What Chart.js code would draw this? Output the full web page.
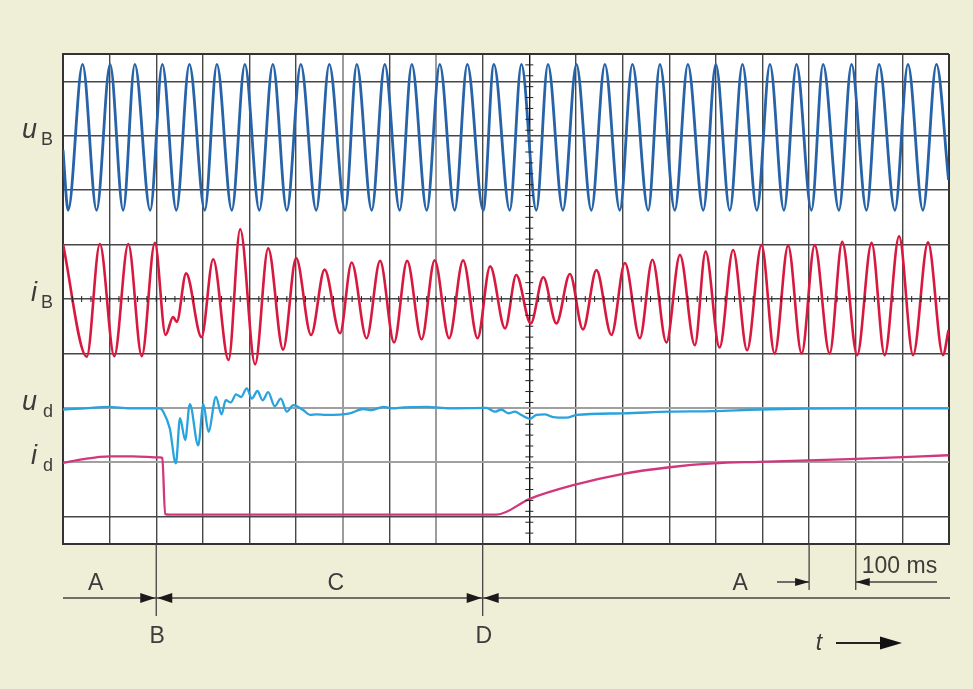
<!DOCTYPE html>
<html lang="de">
<head>
<meta charset="UTF-8">
<title>Oszillogramm uB, iB, ud, id</title>
<style>
  html, body { margin: 0; padding: 0; background: #efefd7; }
  canvas { display: block; }
</style>
</head>
<body>
<canvas id="scope" width="973" height="689"></canvas>
<script src="https://cdn.jsdelivr.net/npm/chart.js"></script>
<script>
// time in ms (1 division = 100 ms), values in divisions relative to each trace's zero line
const uBTime = [0,
  11, 42, 72, 101, 129, 154, 187, 213,
  243, 271, 304, 330, 362, 390, 421, 450,
  480, 510, 543, 571, 605, 630, 662, 690,
  722, 748, 780, 808, 840, 867, 901, 924,
  958, 983, 1015, 1040, 1072, 1101, 1133, 1162,
  1194, 1221, 1255, 1280, 1312, 1340, 1373, 1400,
  1430, 1457, 1488, 1516, 1546, 1573, 1605, 1630,
  1664, 1691, 1723, 1750, 1784, 1812, 1844, 1873,
  1899];
const uBValue = [-0.26,
  -1.37, 1.31, -1.37, 1.31, -1.37, 1.31, -1.37, 1.31,
  -1.37, 1.31, -1.37, 1.31, -1.37, 1.31, -1.37, 1.31,
  -1.37, 1.31, -1.37, 1.31, -1.37, 1.31, -1.37, 1.31,
  -1.37, 1.31, -1.37, 1.31, -1.37, 1.31, -1.37, 1.31,
  -1.37, 1.31, -1.37, 1.31, -1.37, 1.31, -1.37, 1.31,
  -1.37, 1.31, -1.37, 1.31, -1.37, 1.31, -1.37, 1.31,
  -1.37, 1.31, -1.37, 1.31, -1.37, 1.31, -1.37, 1.31,
  -1.37, 1.31, -1.37, 1.31, -1.37, 1.31, -1.37, 1.31,
  -0.81];

const iBTime = [0, 51, 79, 110, 140, 169, 197,
  220, 236, 244, 264, 297, 322, 355,
  380, 412, 440, 472, 500, 532, 561,
  594, 619, 651, 680, 710, 738, 769,
  797, 828, 858, 889, 916, 948, 972,
  1003, 1030, 1058, 1087, 1115, 1144, 1176,
  1205, 1237, 1264, 1294, 1323, 1355, 1378,
  1408, 1437, 1467, 1498, 1526, 1555, 1584,
  1612, 1644, 1671, 1703, 1734, 1762, 1793,
  1823, 1855, 1887, 1899];
const iBValue = [1.01, -1.06, 1.01, -1.05, 1.01, -1.05, 1.03,
  -0.66, -0.33, -0.42, 0.47, -0.70, 0.73, -1.12,
  1.28, -1.20, 0.93, -0.93, 0.75, -0.66, 0.54,
  -0.63, 0.67, -0.72, 0.70, -0.80, 0.70, -0.74,
  0.71, -0.72, 0.71, -0.72, 0.60, -0.54, 0.44,
  -0.45, 0.40, -0.45, 0.46, -0.56, 0.53, -0.66,
  0.66, -0.72, 0.72, -0.80, 0.81, -0.85, 0.87,
  -0.89, 0.90, -0.94, 0.99, -1.00, 0.98, -1.00,
  0.99, -1.00, 1.05, -1.03, 1.03, -1.03, 1.15,
  -1.03, 1.04, -1.03, -0.57];

const udTime = [0, 47, 97, 144, 208, 215, 229, 242, 251, 262,
  272, 290, 301, 312, 328, 340, 349, 360, 371, 382,
  394, 405, 417, 428, 440, 454, 467, 480, 494, 515,
  530, 544, 565, 615, 644, 662, 687, 707, 730, 780,
  830, 908, 926, 940, 955, 969, 983, 1001, 1015, 1033,
  1051, 1080, 1101, 1201, 1301, 1394, 1494, 1687, 1899];
const udValue = [-0.03, -0.01, 0.02, -0.01, -0.01, -0.07, -0.38, -1.02, -0.19, -0.59,
  0.07, -0.69, 0.07, -0.44, 0.20, -0.12, 0.14, 0.10, 0.25, 0.20,
  0.36, 0.17, 0.31, 0.14, 0.29, 0.03, 0.17, -0.07, 0.05, -0.04,
  -0.13, -0.12, -0.13, -0.10, -0.02, -0.04, 0.02, -0.01, 0.01, 0.02,
  -0.01, 0.00, -0.07, -0.03, -0.10, -0.07, -0.13, -0.20, -0.13, -0.12,
  -0.17, -0.18, -0.13, -0.10, -0.07, -0.06, -0.03, -0.01, -0.01];

const idTime = [0, 43, 101, 150, 208, 213, 219, 229, 930, 1001, 1094, 1201, 1301, 1394, 1494, 1687, 1899];
const idValue = [-0.01, 0.06, 0.11, 0.11, 0.09, 0.08, -0.95, -0.96, -0.96, -0.67, -0.42, -0.21, -0.09, -0.02, 0.01, 0.06, 0.13];

// zero line of each trace on the 0..9 division screen
const zeroLine = { uB: 7.5, iB: 4.5, ud: 2.5, id: 1.5 };
const yGrid = [0, 0.5, 1.5, 2.5, 3.5, 4.5, 5.5, 6.5, 7.5, 8.5, 9];

const traceLabels = [
  { sym: 'u', sub: 'B', key: 'uB' },
  { sym: 'i', sub: 'B', key: 'iB' },
  { sym: 'u', sub: 'd', key: 'ud' },
  { sym: 'i', sub: 'd', key: 'id' }
];
const phaseBounds = [200, 900];          // B and D
const phaseNames = [
  { text: 'A', t: 70 }, { text: 'C', t: 585 }, { text: 'A', t: 1452 }
];
const boundNames = ['B', 'D'];
const scaleBar = [1600, 1700];

const FONT = '"Liberation Sans", Arial, sans-serif';
const INK = '#3c3c3c';

function points(times, vals, base) {
  return times.map((t, i) => ({ x: t, y: base + vals[i] }));
}

function arrowHead(ctx, tipX, y, dir, len, half) {
  ctx.beginPath();
  ctx.moveTo(tipX, y);
  ctx.lineTo(tipX - dir * len, y - half);
  ctx.lineTo(tipX - dir * len, y + half);
  ctx.closePath();
  ctx.fill();
}

const scopeDecor = {
  id: 'scopeDecor',
  beforeDraw(chart) {
    const { ctx, chartArea: a } = chart;
    ctx.save();
    ctx.fillStyle = '#efefd7';
    ctx.fillRect(0, 0, chart.width, chart.height);
    ctx.fillStyle = '#ffffff';
    ctx.fillRect(a.left, a.top, a.right - a.left, a.bottom - a.top);
    ctx.restore();
  },
  afterDraw(chart) {
    const { ctx, chartArea: a } = chart;
    const xs = chart.scales.x, ys = chart.scales.y;
    ctx.save();

    // small graduation on the centre axes
    ctx.strokeStyle = '#222';
    ctx.lineWidth = 1;
    const cx = xs.getPixelForValue(1000);
    for (let k = 1; k < 45; k++) {
      const y = ys.getPixelForValue(k / 5);
      ctx.beginPath(); ctx.moveTo(cx - 4, y); ctx.lineTo(cx + 4, y); ctx.stroke();
    }
    const cy = ys.getPixelForValue(zeroLine.iB);
    for (let k = 1; k < 95; k++) {
      const x = xs.getPixelForValue(k * 20);
      ctx.beginPath(); ctx.moveTo(x, cy - 3); ctx.lineTo(x, cy + 3); ctx.stroke();
    }

    // trace names on the left
    ctx.fillStyle = INK;
    traceLabels.forEach(l => {
      const y = ys.getPixelForValue(zeroLine[l.key]);
      ctx.textAlign = 'right';
      ctx.font = 'italic 27px ' + FONT;
      ctx.fillText(l.sym, 37, y + 2);
      ctx.font = '18px ' + FONT;
      ctx.fillText(l.sub, 53, y + 9);
    });

    // phase markers below the screen
    ctx.strokeStyle = '#444';
    ctx.fillStyle = '#1a1a1a';
    ctx.lineWidth = 1.3;
    const lineY = 598;
    ctx.beginPath(); ctx.moveTo(a.left, lineY); ctx.lineTo(950, lineY); ctx.stroke();
    phaseBounds.forEach(t => {
      const x = xs.getPixelForValue(t);
      ctx.beginPath(); ctx.moveTo(x, a.bottom); ctx.lineTo(x, 616); ctx.stroke();
      arrowHead(ctx, x - 1, lineY, 1, 15, 5);
      arrowHead(ctx, x + 1, lineY, -1, 15, 5);
    });

    // 100 ms scale bar
    const s0 = xs.getPixelForValue(scaleBar[0]), s1 = xs.getPixelForValue(scaleBar[1]);
    const barY = 582;
    ctx.beginPath();
    ctx.moveTo(s0, a.bottom); ctx.lineTo(s0, 590);
    ctx.moveTo(s1, a.bottom); ctx.lineTo(s1, 590);
    ctx.moveTo(777, barY); ctx.lineTo(s0, barY);
    ctx.moveTo(s1, barY); ctx.lineTo(937, barY);
    ctx.stroke();
    arrowHead(ctx, s0, barY, 1, 14, 4);
    arrowHead(ctx, s1, barY, -1, 14, 4);

    // texts
    ctx.fillStyle = INK;
    ctx.font = '23px ' + FONT;
    ctx.textAlign = 'center';
    phaseNames.forEach(p => ctx.fillText(p.text, xs.getPixelForValue(p.t), 590));
    phaseBounds.forEach((t, i) => ctx.fillText(boundNames[i], xs.getPixelForValue(t) + 1, 643));
    ctx.textAlign = 'left';
    ctx.font = '23px ' + FONT;
    ctx.fillText('100 ms', s1 + 6, 573);

    // time arrow
    ctx.font = 'italic 23px ' + FONT;
    ctx.textAlign = 'center';
    ctx.fillText('t', 819, 650);
    ctx.strokeStyle = '#222';
    ctx.lineWidth = 2;
    ctx.beginPath(); ctx.moveTo(836, 643); ctx.lineTo(885, 643); ctx.stroke();
    ctx.fillStyle = '#111';
    arrowHead(ctx, 902, 643, 1, 22, 6.5);

    ctx.restore();
  }
};

function lineSet(label, data, color, width) {
  return {
    label, data,
    borderColor: color,
    borderWidth: width,
    pointRadius: 0,
    fill: false,
    cubicInterpolationMode: 'monotone'
  };
}

new Chart(document.getElementById('scope'), {
  type: 'line',
  data: {
    datasets: [
      lineSet('id', points(idTime, idValue, zeroLine.id), '#d2367c', 2.3),
      lineSet('ud', points(udTime, udValue, zeroLine.ud), '#29a3dd', 2.3),
      lineSet('iB', points(iBTime, iBValue, zeroLine.iB), '#d8193f', 2.6),
      lineSet('uB', points(uBTime, uBValue, zeroLine.uB), '#2663a8', 2.8)
    ]
  },
  options: {
    responsive: false,
    animation: false,
    devicePixelRatio: 1,
    layout: { padding: { left: 63, top: 54, right: 24, bottom: 145 } },
    plugins: { legend: { display: false }, tooltip: { enabled: false } },
    scales: {
      x: {
        type: 'linear', min: 0, max: 1900,
        ticks: { display: false, stepSize: 100 },
        grid: {
          drawTicks: false,
          color: c => {
            const v = c.tick.value;
            if (v === 0 || v === 1900) return '#333';
            if (v === 1000) return '#111';
            if (v === 600 || v === 800) return '#9c9c9c';
            return '#474747';
          },
          lineWidth: c => {
            const v = c.tick.value;
            if (v === 0 || v === 1900) return 2;
            if (v === 600 || v === 800) return 2;
            return 1.4;
          }
        },
        border: { display: true, color: '#333', width: 2 },
        afterFit: s => { s.height = 0; }
      },
      y: {
        type: 'linear', min: 0, max: 9,
        ticks: { display: false },
        afterBuildTicks: s => { s.ticks = yGrid.map(v => ({ value: v })); },
        grid: {
          drawTicks: false,
          color: c => {
            const v = c.tick.value;
            if (v === 0 || v === 9) return '#333';
            if (v === 2.5 || v === 1.5) return '#a0a0a0';
            return '#474747';
          },
          lineWidth: c => {
            const v = c.tick.value;
            if (v === 0 || v === 9) return 2;
            if (v === 2.5 || v === 1.5) return 2;
            return 1.4;
          }
        },
        border: { display: true, color: '#333', width: 2 },
        afterFit: s => { s.width = 0; }
      }
    }
  },
  plugins: [scopeDecor]
});
</script>
</body>
</html>
